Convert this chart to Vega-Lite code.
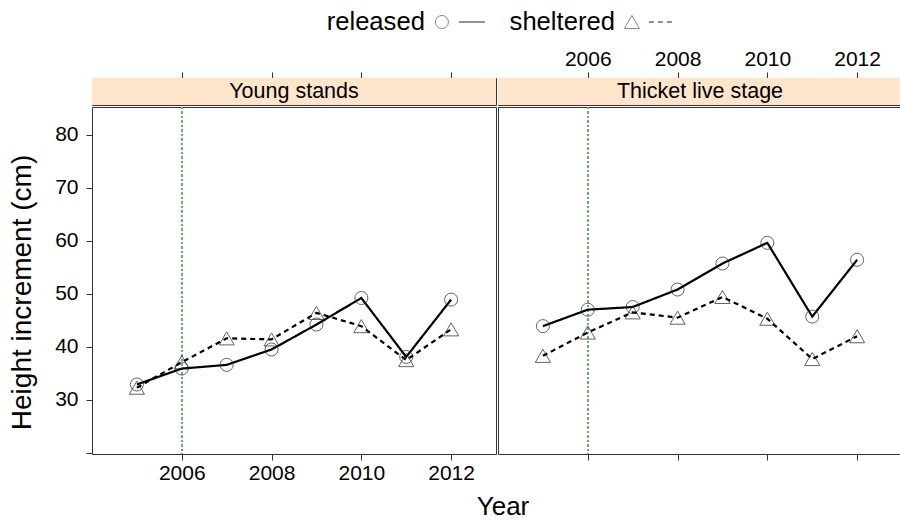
{
  "$schema": "https://vega.github.io/schema/vega-lite/v6.json",
  "padding": {"left": 7, "top": 0, "right": 0, "bottom": 0},
  "title": {"text": "Year", "orient": "bottom", "anchor": "middle", "fontSize": 26, "fontWeight": "normal", "font": "Liberation Sans", "color": "#000", "dx": 48, "offset": 10},
  "config": {
    "font": "Liberation Sans",
    "view": {"stroke": "#333", "strokeWidth": 1},
    "axis": {"grid": false, "domain": false, "tickColor": "#333", "labelColor": "#000", "labelFontSize": 21, "tickSize": 6, "labelFont": "Liberation Sans", "titleFont": "Liberation Sans", "titleFontWeight": "normal", "titleColor": "#000"},
    "text": {"font": "Liberation Sans", "color": "#000"}
  },
  "datasets": {
    "growth": [
      {"panel": "Young stands", "treatment": "released", "year": 2005, "height": 32.9},
      {"panel": "Young stands", "treatment": "released", "year": 2006, "height": 35.9},
      {"panel": "Young stands", "treatment": "released", "year": 2007, "height": 36.6},
      {"panel": "Young stands", "treatment": "released", "year": 2008, "height": 39.5},
      {"panel": "Young stands", "treatment": "released", "year": 2009, "height": 44.2},
      {"panel": "Young stands", "treatment": "released", "year": 2010, "height": 49.2},
      {"panel": "Young stands", "treatment": "released", "year": 2011, "height": 38.1},
      {"panel": "Young stands", "treatment": "released", "year": 2012, "height": 48.9},
      {"panel": "Young stands", "treatment": "sheltered", "year": 2005, "height": 32.3},
      {"panel": "Young stands", "treatment": "sheltered", "year": 2006, "height": 37.1},
      {"panel": "Young stands", "treatment": "sheltered", "year": 2007, "height": 41.6},
      {"panel": "Young stands", "treatment": "sheltered", "year": 2008, "height": 41.4},
      {"panel": "Young stands", "treatment": "sheltered", "year": 2009, "height": 46.4},
      {"panel": "Young stands", "treatment": "sheltered", "year": 2010, "height": 43.9},
      {"panel": "Young stands", "treatment": "sheltered", "year": 2011, "height": 37.5},
      {"panel": "Young stands", "treatment": "sheltered", "year": 2012, "height": 43.3},
      {"panel": "Thicket live stage", "treatment": "released", "year": 2005, "height": 43.9},
      {"panel": "Thicket live stage", "treatment": "released", "year": 2006, "height": 47.0},
      {"panel": "Thicket live stage", "treatment": "released", "year": 2007, "height": 47.5},
      {"panel": "Thicket live stage", "treatment": "released", "year": 2008, "height": 50.8},
      {"panel": "Thicket live stage", "treatment": "released", "year": 2009, "height": 55.7},
      {"panel": "Thicket live stage", "treatment": "released", "year": 2010, "height": 59.6},
      {"panel": "Thicket live stage", "treatment": "released", "year": 2011, "height": 45.7},
      {"panel": "Thicket live stage", "treatment": "released", "year": 2012, "height": 56.4},
      {"panel": "Thicket live stage", "treatment": "sheltered", "year": 2005, "height": 38.3},
      {"panel": "Thicket live stage", "treatment": "sheltered", "year": 2006, "height": 42.7},
      {"panel": "Thicket live stage", "treatment": "sheltered", "year": 2007, "height": 46.5},
      {"panel": "Thicket live stage", "treatment": "sheltered", "year": 2008, "height": 45.5},
      {"panel": "Thicket live stage", "treatment": "sheltered", "year": 2009, "height": 49.4},
      {"panel": "Thicket live stage", "treatment": "sheltered", "year": 2010, "height": 45.3},
      {"panel": "Thicket live stage", "treatment": "sheltered", "year": 2011, "height": 37.7},
      {"panel": "Thicket live stage", "treatment": "sheltered", "year": 2012, "height": 42.0}
    ],
    "legend": [
      {"treatment": "released"},
      {"treatment": "sheltered"}
    ],
    "strips": [
      {"panel": "Young stands"},
      {"panel": "Thicket live stage"}
    ]
  },
  "spacing": 3,
  "vconcat": [
    {
      "width": 570,
      "height": 44,
      "view": {"stroke": null},
      "data": {"name": "legend"},
      "encoding": {
        "x": {"field": "treatment", "type": "nominal", "scale": {"type": "point", "domain": ["released", "sheltered"], "padding": 1, "align": 0.876}, "axis": null}
      },
      "layer": [
        {"mark": {"type": "text", "align": "right", "baseline": "middle", "fontSize": 25.6}, "encoding": {"text": {"field": "treatment"}}},
        {"mark": {"type": "point", "filled": false, "color": "#555", "strokeWidth": 1, "xOffset": 17}, "encoding": {
          "shape": {"field": "treatment", "type": "nominal", "scale": {"domain": ["released", "sheltered"], "range": ["circle", "triangle-up"]}, "legend": null},
          "size": {"field": "treatment", "type": "nominal", "scale": {"domain": ["released", "sheltered"], "range": [170, 230]}, "legend": null}
        }},
        {"mark": {"type": "rule", "color": "#222", "strokeWidth": 1.2, "xOffset": 34, "x2Offset": 60}, "encoding": {
          "x2": {"field": "treatment"},
          "strokeDash": {"field": "treatment", "type": "nominal", "scale": {"domain": ["released", "sheltered"], "range": [[1, 0], [5, 4]]}, "legend": null}
        }}
      ]
    },
    {
      "spacing": 0,
      "resolve": {"scale": {"x": "independent", "y": "independent"}},
      "hconcat": [
        {
          "spacing": 0,
          "vconcat": [
            {
              "width": 404,
              "height": 27,
              "data": {"name": "strips"},
              "transform": [{"filter": "datum.panel === 'Young stands'"}],
              "layer": [
                {"mark": {"type": "rect", "fill": "#ffe5cc"}, "encoding": {
                  "x": {"datum": 2004, "type": "quantitative", "scale": {"domain": [2004, 2013], "nice": false, "zero": false}, "axis": {"orient": "top", "values": [2006, 2008, 2010, 2012], "labels": false, "title": null}},
                  "x2": {"datum": 2013}
                }},
                {"mark": {"type": "text", "fontSize": 21.5, "baseline": "middle"}, "encoding": {
                  "x": {"datum": 2008.5, "type": "quantitative"},
                  "text": {"field": "panel"}
                }}
              ]
            },
            {
              "width": 404,
              "height": 347,
              "data": {"name": "growth"},
              "transform": [{"filter": "datum.panel === 'Young stands'"}],
              "layer": [
                {"mark": {"type": "rule", "color": "#6aae6a", "strokeDash": [2, 2.5], "strokeWidth": 1}, "encoding": {"x": {"datum": 2006, "type": "quantitative", "scale": {"domain": [2004, 2013], "nice": false, "zero": false}}}},
                {"mark": {"type": "line", "color": "#000", "strokeWidth": 2.2}, "encoding": {
                  "x": {"field": "year", "type": "quantitative", "scale": {"domain": [2004, 2013], "nice": false, "zero": false}, "axis": {"values": [2006, 2008, 2010, 2012], "format": "d", "labelPadding": 2, "title": null}},
                  "y": {"field": "height", "type": "quantitative", "scale": {"domain": [19.8, 85.2], "nice": false, "zero": false}, "axis": {"values": [20, 30, 40, 50, 60, 70, 80], "labelExpr": "datum.value === 20 ? '' : datum.label", "labelPadding": 8, "title": "Height increment (cm)", "titleFontSize": 28, "titleX": -56, "titleY": 185}},
                  "strokeDash": {"field": "treatment", "type": "nominal", "scale": {"domain": ["released", "sheltered"], "range": [[1, 0], [9, 6]]}, "legend": null}
                }},
                {"mark": {"type": "point", "filled": false, "color": "#222", "strokeWidth": 1}, "encoding": {
                  "x": {"field": "year", "type": "quantitative", "scale": {"domain": [2004, 2013], "nice": false, "zero": false}},
                  "y": {"field": "height", "type": "quantitative", "scale": {"domain": [19.8, 85.2], "nice": false, "zero": false}},
                  "shape": {"field": "treatment", "type": "nominal", "scale": {"domain": ["released", "sheltered"], "range": ["circle", "triangle-up"]}, "legend": null},
                  "size": {"field": "treatment", "type": "nominal", "scale": {"domain": ["released", "sheltered"], "range": [100, 170]}, "legend": null}
                }}
              ]
            }
          ]
        },
        {
          "spacing": 0,
          "vconcat": [
            {
              "width": 404,
              "height": 27,
              "data": {"name": "strips"},
              "transform": [{"filter": "datum.panel === 'Thicket live stage'"}],
              "layer": [
                {"mark": {"type": "rect", "fill": "#ffe5cc"}, "encoding": {
                  "x": {"datum": 2004, "type": "quantitative", "scale": {"domain": [2004, 2013], "nice": false, "zero": false}, "axis": {"orient": "top", "values": [2006, 2008, 2010, 2012], "format": "d", "labelPadding": 3, "title": null}},
                  "x2": {"datum": 2013}
                }},
                {"mark": {"type": "text", "fontSize": 21.5, "baseline": "middle"}, "encoding": {
                  "x": {"datum": 2008.5, "type": "quantitative"},
                  "text": {"field": "panel"}
                }}
              ]
            },
            {
              "width": 404,
              "height": 347,
              "data": {"name": "growth"},
              "transform": [{"filter": "datum.panel === 'Thicket live stage'"}],
              "layer": [
                {"mark": {"type": "rule", "color": "#6aae6a", "strokeDash": [2, 2.5], "strokeWidth": 1}, "encoding": {"x": {"datum": 2006, "type": "quantitative", "scale": {"domain": [2004, 2013], "nice": false, "zero": false}}}},
                {"mark": {"type": "line", "color": "#000", "strokeWidth": 2.2}, "encoding": {
                  "x": {"field": "year", "type": "quantitative", "scale": {"domain": [2004, 2013], "nice": false, "zero": false}, "axis": {"values": [2006, 2008, 2010, 2012], "labels": false, "title": null}},
                  "y": {"field": "height", "type": "quantitative", "scale": {"domain": [19.8, 85.2], "nice": false, "zero": false}, "axis": null},
                  "strokeDash": {"field": "treatment", "type": "nominal", "scale": {"domain": ["released", "sheltered"], "range": [[1, 0], [9, 6]]}, "legend": null}
                }},
                {"mark": {"type": "point", "filled": false, "color": "#222", "strokeWidth": 1}, "encoding": {
                  "x": {"field": "year", "type": "quantitative", "scale": {"domain": [2004, 2013], "nice": false, "zero": false}},
                  "y": {"field": "height", "type": "quantitative", "scale": {"domain": [19.8, 85.2], "nice": false, "zero": false}},
                  "shape": {"field": "treatment", "type": "nominal", "scale": {"domain": ["released", "sheltered"], "range": ["circle", "triangle-up"]}, "legend": null},
                  "size": {"field": "treatment", "type": "nominal", "scale": {"domain": ["released", "sheltered"], "range": [100, 170]}, "legend": null}
                }}
              ]
            }
          ]
        }
      ]
    }
  ]
}
